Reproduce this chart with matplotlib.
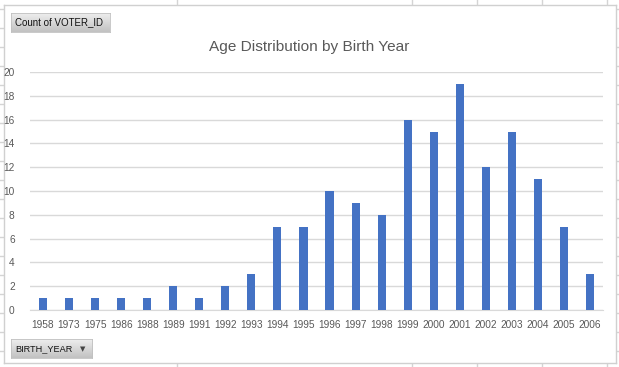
import numpy as np
import matplotlib
matplotlib.use("Agg")
import matplotlib.pyplot as plt
from matplotlib.lines import Line2D

years = ["1958", "1973", "1975", "1986", "1988", "1989", "1991", "1992", "1993", "1994", "1995",
         "1996", "1997", "1998", "1999", "2000", "2001", "2002", "2003", "2004", "2005", "2006"]
counts = [1, 1, 1, 1, 1, 2, 1, 2, 3, 7, 7, 10, 9, 8, 16, 15, 19, 12, 15, 11, 7, 3]
y_ticks = list(range(0, 21, 2))

plt.rcParams['font.family'] = ['Liberation Sans', 'DejaVu Sans']

W, H = 619, 367
fig = plt.figure(figsize=(W / 100, H / 100), dpi=100)
fig.patch.set_facecolor('white')


def px(x, y):
    # pixel (from top-left) to figure fraction
    return x / W, 1 - y / H


# spreadsheet grid behind the chart
grid_c = '#d4d4d4'
for gx in [177, 412, 477, 542, 607]:
    fig.add_artist(Line2D([gx / W] * 2, [0, 1], color=grid_c, lw=1, zorder=-5))
for k in range(20):
    gy = 9.3 + 19 * k
    fig.add_artist(Line2D([0, 1], [1 - gy / H] * 2, color=grid_c, lw=1, zorder=-5))

# chart area
bg = fig.add_axes([4 / W, 1 - 363 / H, 612 / W, 358 / H])
bg.set_xticks([])
bg.set_yticks([])
bg.set_facecolor('white')
for s in bg.spines.values():
    s.set_color('#d0d0d0')
    s.set_linewidth(1)

# plot area
ax = fig.add_axes([30 / W, 1 - 310 / H, 573 / W, 238 / H])
x = np.arange(len(years))
ax.bar(x, counts, width=0.31, color='#4472c4', zorder=3)
ax.set_xlim(-0.5, len(years) - 0.5)
ax.set_ylim(0, 20)
ax.set_yticks(y_ticks)
ax.set_xticks(x)
ax.set_xticklabels(years)
ax.yaxis.grid(True, color='#d9d9d9', lw=1)
ax.set_axisbelow(True)
for s in ['top', 'right', 'left']:
    ax.spines[s].set_visible(False)
ax.spines['bottom'].set_color('#d9d9d9')
ax.tick_params(axis='both', length=0, labelsize=7.3, labelcolor='#595959')
ax.tick_params(axis='x', pad=7)
ax.tick_params(axis='y', pad=11)
ax.set_facecolor('none')

fig.text(*px(309, 47), "Age Distribution by Birth Year", ha='center', va='center',
         fontsize=11.1, color='#595959')

# pivot field buttons
grad = np.linspace(0.93, 0.76, 20).reshape(-1, 1)


def button(x0, y0, w, h, label, size, arrow=False):
    b = fig.add_axes([x0 / W, 1 - (y0 + h) / H, w / W, h / H])
    b.imshow(grad, cmap='gray', vmin=0, vmax=1, aspect='auto', extent=[0, 1, 0, 1])
    b.set_xticks([])
    b.set_yticks([])
    for s in b.spines.values():
        s.set_color('#c0c0c0')
        s.set_linewidth(0.6)
    b.text(4 / w, 0.5, label, ha='left', va='center', fontsize=size, color='#111111',
           transform=b.transAxes)
    if arrow:
        b.text(1 - 9 / w, 0.45, "\u25bc", ha='center', va='center', fontsize=5,
               color='#444444', transform=b.transAxes, family='DejaVu Sans')


button(11, 13, 99, 19, "Count of VOTER_ID", 7.0)
button(11, 339, 81, 19, "BIRTH_YEAR", 6.6, arrow=True)

fig.savefig("out.png", dpi=100)
